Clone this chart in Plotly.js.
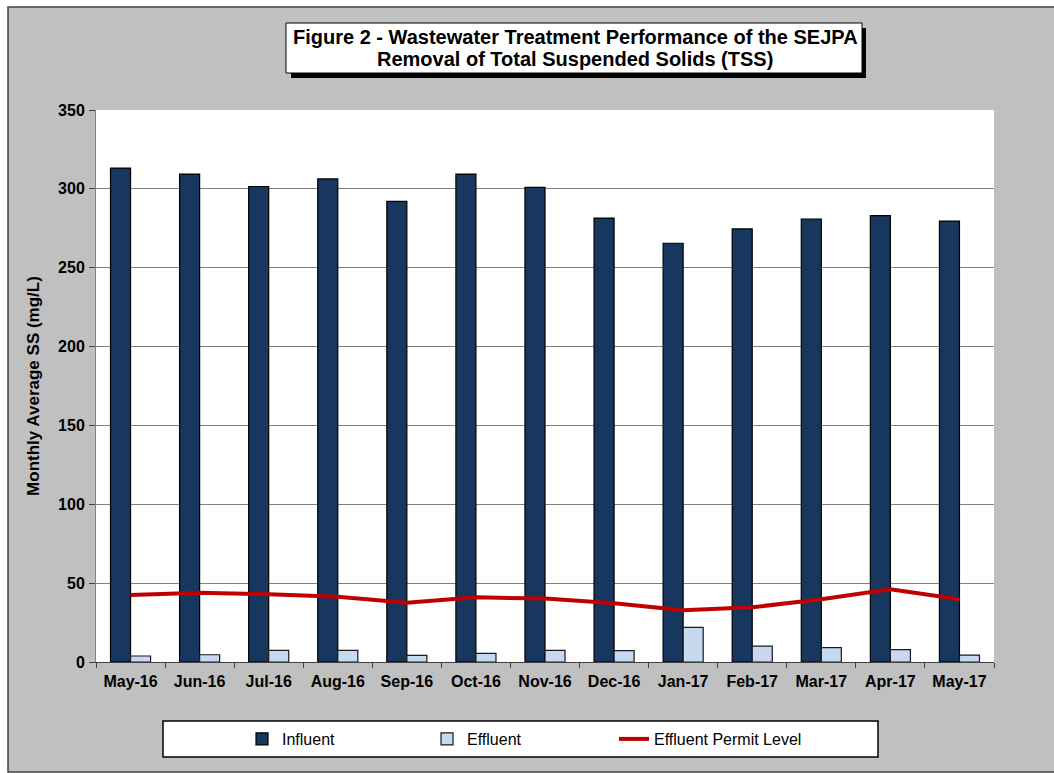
<!DOCTYPE html>
<html>
<head>
<meta charset="utf-8">
<script src="https://cdn.plot.ly/plotly-3.0.1.min.js"></script>
<style>html,body{margin:0;padding:0;background:#fff;}#chart{width:1054px;height:773px;}</style>
</head>
<body>
<div id="chart"></div>
<script>
const months = ["May-16","Jun-16","Jul-16","Aug-16","Sep-16","Oct-16","Nov-16","Dec-16","Jan-17","Feb-17","Mar-17","Apr-17","May-17"];
const influent = [313.2, 309.4, 301.5, 306.3, 292.0, 309.4, 301.0, 281.5, 265.5, 274.6, 280.9, 283.0, 279.6];
const effluent = [3.8, 4.6, 7.4, 7.4, 4.2, 5.5, 7.4, 7.2, 22.0, 10.1, 9.1, 7.8, 4.3];
const permit = [42.5, 43.9, 42.9, 41.4, 37.6, 41.0, 40.2, 37.2, 32.8, 34.7, 39.8, 46.1, 39.8];
const titleLines = ["Figure 2 - Wastewater Treatment Performance of the SEJPA", "Removal of Total Suspended Solids (TSS)"];

const W = 1054, H = 773, L = 96, R = 994, T = 110, B = 662;
const px = x => (x - L) / (R - L);
const py = y => (B - y) / (B - T);
const FONT = "Liberation Sans, Arial, sans-serif";

const traces = [
  {type: "bar", name: "Influent", x: months, y: influent, legendwidth: 140,
   marker: {color: "#17375e", line: {color: "#000000", width: 1.2}}},
  {type: "bar", name: "Effluent", x: months, y: effluent, legendwidth: 142,
   marker: {color: "#c6d9f0", line: {color: "#1a1a1a", width: 1.2}}},
  {type: "scatter", mode: "lines", name: "Effluent Permit Level", x: months, y: permit, legendwidth: 175,
   line: {color: "#c00000", width: 4}}
];

const shapes = [
  {type: "rect", xref: "paper", yref: "paper", x0: px(8), x1: px(1060), y0: py(772), y1: py(7),
   fillcolor: "#c0c0c0", line: {color: "#404040", width: 1.5}, layer: "below"},
  {type: "rect", xref: "paper", yref: "paper", x0: 0, x1: 1, y0: 0, y1: 1,
   fillcolor: "#ffffff", line: {width: 0}, layer: "below"},
  {type: "rect", xref: "paper", yref: "paper", x0: px(291), x1: px(866), y0: py(78), y1: py(28),
   fillcolor: "#000000", line: {width: 0}, layer: "above"},
  {type: "rect", xref: "paper", yref: "paper", x0: px(286), x1: px(862), y0: py(73), y1: py(23),
   fillcolor: "#ffffff", line: {color: "#000000", width: 1}, layer: "above"},
  {type: "rect", xref: "paper", yref: "paper", x0: px(163), x1: px(878), y0: py(757), y1: py(721),
   fillcolor: "#ffffff", line: {color: "#000000", width: 1.5}, layer: "above"}
];

const layout = {
  width: W, height: H,
  margin: {l: L, r: W - R, t: T, b: H - B, pad: 0},
  paper_bgcolor: "#ffffff",
  plot_bgcolor: "rgba(0,0,0,0)",
  font: {family: FONT, color: "#000000", size: 16},
  barmode: "group",
  bargap: 0.42,
  bargroupgap: 0,
  showlegend: true,
  legend: {orientation: "h", x: px(242), y: py(739), xanchor: "left", yanchor: "middle",
           bgcolor: "rgba(0,0,0,0)", borderwidth: 0,
           font: {family: FONT, size: 16, color: "#000000"},
           traceorder: "normal"},
  xaxis: {type: "category", showgrid: false, tickson: "boundaries", ticks: "outside",
          ticklen: 5, tickcolor: "#404040", showline: true, linecolor: "#404040", linewidth: 1,
          ticklabelstandoff: 5,
          tickfont: {family: FONT, size: 16, color: "#000000", weight: "bold"}, fixedrange: true},
  yaxis: {range: [0, 350], dtick: 50, showgrid: true, gridcolor: "#808080", gridwidth: 1,
          ticks: "outside", ticklen: 6, tickcolor: "#404040", showline: true, linecolor: "#808080",
          linewidth: 1, zeroline: false, ticklabelstandoff: 1,
          tickfont: {family: FONT, size: 16, color: "#000000", weight: "bold"},
          title: {text: "Monthly Average SS (mg/L)", standoff: 14,
                  font: {family: FONT, size: 17, color: "#000000", weight: "bold"}}},
  shapes: shapes,
  annotations: [
    {xref: "paper", yref: "paper", x: px(575), y: py(37), xanchor: "center", yanchor: "middle",
     showarrow: false, text: "<b>" + titleLines[0] + "</b>",
     font: {family: FONT, size: 20, color: "#000000"}},
    {xref: "paper", yref: "paper", x: px(575), y: py(59), xanchor: "center", yanchor: "middle",
     showarrow: false, text: "<b>" + titleLines[1] + "</b>",
     font: {family: FONT, size: 20, color: "#000000"}}
  ]
};

Plotly.newPlot("chart", traces, layout, {displayModeBar: false, staticPlot: true});
</script>
</body>
</html>
